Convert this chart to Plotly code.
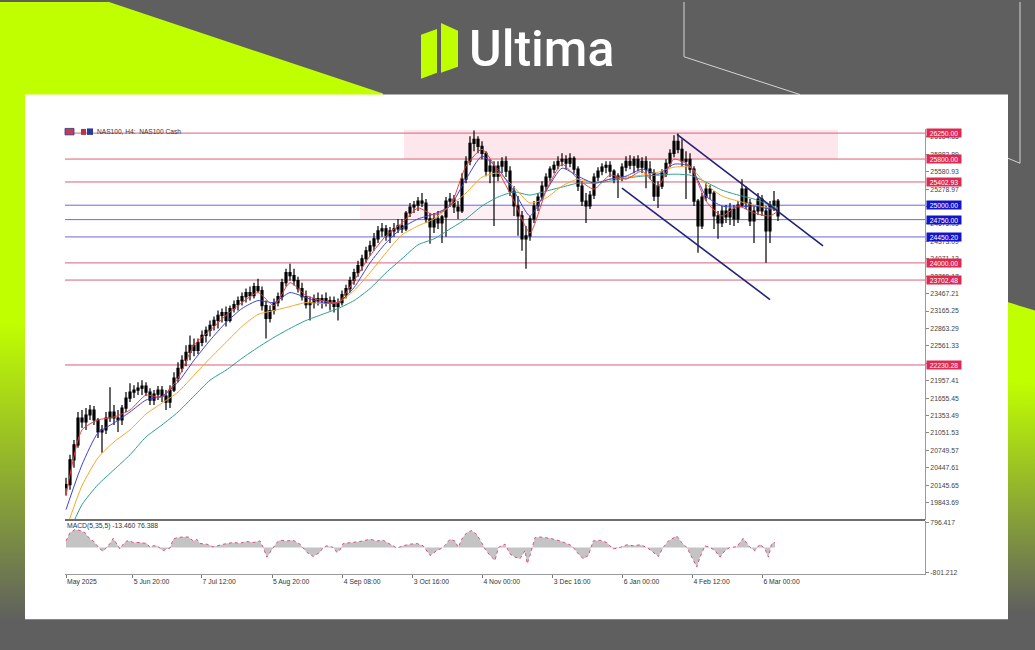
import plotly.graph_objects as go

# ---------------- data (NAS100, H4, one slot ~ 1.3 trading days) ----------------
bar_open = [
    20104, 20156, 20587, 20846, 21311, 21242, 21363, 21450, 21277, 21070,
    21105, 21311, 21415, 21311, 21277, 21484, 21656, 21760, 21795, 21829,
    21864, 21760, 21622, 21726, 21795, 21691, 21587, 21795, 22001, 22174,
    22312, 22450, 22571, 22485, 22622, 22743, 22830, 22916, 23002, 23089,
    23140, 23002, 23209, 23278, 23347, 23417, 23485, 23434, 23589, 23520,
    23261, 23037, 23175, 23312, 23417, 23657, 23830, 23779, 23692, 23554,
    23417, 23278, 23312, 23382, 23347, 23382, 23312, 23347, 23244, 23312,
    23451, 23554, 23692, 23830, 23951, 24072, 24210, 24296, 24417, 24555,
    24589, 24469, 24555, 24589, 24641, 24589, 24865, 24969, 25003, 25072,
    25037, 24762, 24624, 24762, 24692, 24797, 25072, 25107, 24969, 24900,
    25452, 25762, 26072, 26142, 26021, 25900, 25590, 25676, 25504, 25676,
    25762, 25590, 25245, 24986, 24814, 24417, 24469, 24762, 24986, 25142,
    25331, 25487, 25624, 25693, 25762, 25797, 25727, 25814, 25624, 25331,
    25072, 24986, 25176, 25487, 25590, 25659, 25693, 25590, 25452, 25504,
    25659, 25762, 25693, 25797, 25659, 25762, 25624, 25555, 25159, 25331,
    25555, 25727, 25900, 26107, 25969, 25762, 25797, 25624, 25072, 24641,
    25142, 25279, 25210, 24814, 24692, 24900, 24797, 24934, 24762, 25003,
    25279, 25037, 24727, 24900, 25107, 24900, 24555, 25003, 25072]
bar_high = [
    20276, 20673, 20932, 21415, 21450, 21484, 21536, 21519, 21311, 21191,
    21415, 21846, 21536, 21450, 21536, 21760, 21915, 21881, 21932, 21967,
    21932, 21829, 21795, 21864, 21864, 21795, 21881, 22105, 22277, 22398,
    22571, 22743, 22691, 22691, 22830, 22899, 23002, 23072, 23175, 23209,
    23244, 23261, 23347, 23417, 23485, 23554, 23589, 23657, 23727, 23589,
    23347, 23261, 23382, 23485, 23727, 23899, 23985, 23899, 23762, 23657,
    23520, 23417, 23451, 23485, 23451, 23485, 23417, 23417, 23382, 23520,
    23623, 23762, 23899, 24037, 24141, 24279, 24382, 24520, 24641, 24692,
    24658, 24624, 24692, 24762, 24762, 24900, 25037, 25072, 25142, 25210,
    25107, 24865, 24865, 24900, 24831, 25142, 25210, 25176, 25072, 25555,
    25849, 26194, 26297, 26194, 26107, 25935, 25797, 25762, 25762, 25832,
    25849, 25676, 25331, 25159, 24900, 24641, 24814, 25072, 25210, 25417,
    25555, 25676, 25762, 25849, 25900, 25866, 25900, 25849, 25676, 25417,
    25210, 25245, 25555, 25659, 25727, 25762, 25762, 25624, 25555, 25727,
    25849, 25866, 25849, 25866, 25832, 25849, 25762, 25624, 25417, 25624,
    25797, 25969, 26211, 26245, 26142, 25935, 25900, 25676, 25107, 25210,
    25382, 25348, 25245, 24900, 24986, 25003, 25037, 25003, 25072, 25452,
    25331, 25107, 24986, 25210, 25176, 24986, 25072, 25245, 25107]
bar_low = [
    19966, 20069, 20449, 20794, 21139, 21105, 21277, 21191, 20966, 20707,
    21036, 21242, 21191, 21070, 21191, 21415, 21587, 21656, 21708, 21708,
    21691, 21536, 21536, 21622, 21587, 21450, 21484, 21760, 21932, 22105,
    22209, 22312, 22381, 22416, 22554, 22622, 22726, 22830, 22864, 22967,
    22899, 22967, 23140, 23175, 23261, 23312, 23347, 23382, 23485, 23175,
    22691, 22967, 23106, 23244, 23347, 23589, 23692, 23606, 23485, 23347,
    23209, 23002, 23209, 23261, 23209, 23244, 23175, 23140, 23002, 23261,
    23382, 23485, 23623, 23762, 23865, 24002, 24124, 24210, 24347, 24452,
    24382, 24347, 24452, 24520, 24520, 24555, 24797, 24865, 24900, 24969,
    24692, 24330, 24520, 24589, 24347, 24452, 24969, 24865, 24762, 24865,
    25382, 25693, 25935, 25900, 25797, 25504, 25382, 24641, 25417, 25555,
    25487, 25159, 24814, 24469, 24210, 23899, 24382, 24692, 24900, 25072,
    25245, 25417, 25555, 25624, 25676, 25624, 25659, 25555, 25245, 24986,
    24692, 24934, 25107, 25417, 25521, 25555, 25487, 25382, 25124, 25417,
    25590, 25624, 25555, 25590, 25555, 25296, 25452, 25072, 24951, 25279,
    25487, 25659, 25832, 25900, 25676, 25107, 25555, 24986, 24175, 24589,
    25072, 25107, 24589, 24417, 24624, 24692, 24658, 24641, 24692, 24969,
    24934, 24641, 24347, 24831, 24814, 24002, 24347, 24900, 24727]
bar_close = [
    20156, 20587, 20846, 21311, 21242, 21363, 21450, 21277, 21070, 21105,
    21311, 21415, 21311, 21277, 21484, 21656, 21760, 21795, 21829, 21864,
    21760, 21622, 21726, 21795, 21691, 21587, 21795, 22001, 22174, 22312,
    22450, 22571, 22485, 22622, 22743, 22830, 22916, 23002, 23089, 23140,
    23002, 23209, 23278, 23347, 23417, 23485, 23434, 23589, 23520, 23261,
    23037, 23175, 23312, 23417, 23657, 23830, 23779, 23692, 23554, 23417,
    23278, 23312, 23382, 23347, 23382, 23312, 23347, 23244, 23312, 23451,
    23554, 23692, 23830, 23951, 24072, 24210, 24296, 24417, 24555, 24589,
    24469, 24555, 24589, 24641, 24589, 24865, 24969, 25003, 25072, 25037,
    24762, 24624, 24762, 24692, 24797, 25072, 25107, 24969, 24900, 25452,
    25762, 26072, 26142, 26021, 25900, 25590, 25676, 25504, 25676, 25762,
    25590, 25245, 24986, 24814, 24417, 24469, 24762, 24986, 25142, 25331,
    25487, 25624, 25693, 25762, 25797, 25727, 25814, 25624, 25331, 25072,
    24986, 25176, 25487, 25590, 25659, 25693, 25590, 25452, 25504, 25659,
    25762, 25693, 25797, 25659, 25762, 25624, 25555, 25159, 25331, 25555,
    25727, 25900, 26107, 25969, 25762, 25797, 25624, 25072, 24641, 25142,
    25279, 25210, 24814, 24692, 24900, 24797, 24934, 24762, 25003, 25279,
    25037, 24727, 24900, 25107, 24900, 24555, 25003, 25072, 24814]
bar_slot = list(range(len(bar_close)))

ma_slot = [0, 4, 8, 12, 16, 20, 24, 28, 32, 36, 40, 44, 48, 52, 56, 60, 64, 68, 72, 76,
           80, 84, 88, 92, 96, 100, 104, 108, 112, 116, 120, 124, 128, 132, 136, 140, 144,
           148, 152, 156, 160, 164, 168, 172, 176, 178]
ma_red = [19966, 21105, 21277, 21328, 21450, 21708, 21673, 22001, 22571, 22830, 23089, 23312,
          23485, 23261, 23657, 23434, 23347, 23312, 23692, 24124, 24469, 24692, 24951, 24831,
          24986, 25676, 25969, 25590, 25072, 24520, 25245, 25711, 25452, 25279, 25521, 25452,
          25590, 25331, 25797, 25676, 25072, 24814, 24986, 24865, 24814, 24900]
ma_blue = [19723, 20501, 21053, 21225, 21415, 21622, 21691, 21932, 22312, 22657, 22967, 23209,
           23347, 23312, 23485, 23399, 23312, 23312, 23572, 24002, 24347, 24606, 24762, 24848,
           24986, 25452, 25849, 25624, 25245, 24814, 25245, 25642, 25504, 25382, 25452, 25504,
           25624, 25538, 25711, 25676, 25159, 24986, 24969, 24986, 24934, 24934]
ma_orange = [19378, 20138, 20621, 20897, 21105, 21380, 21570, 21760, 22053, 22346, 22622, 22899,
             23106, 23175, 23244, 23312, 23295, 23312, 23520, 23830, 24175, 24486, 24641, 24762,
             24986, 25210, 25487, 25555, 25314, 25037, 25124, 25331, 25452, 25382, 25452, 25487,
             25521, 25573, 25659, 25659, 25366, 25159, 25072, 25003, 24951, 24934]
ma_teal = [19205, 19809, 20156, 20414, 20673, 20983, 21191, 21415, 21691, 21967, 22140, 22346,
           22536, 22709, 22864, 23002, 23106, 23209, 23347, 23554, 23830, 24072, 24313, 24417,
           24589, 24762, 24986, 25142, 25228, 25176, 25245, 25314, 25382, 25382, 25417, 25469,
           25504, 25521, 25538, 25521, 25400, 25262, 25176, 25107, 25003, 24951]

macd_slot = [0, 1.0, 2.25, 3.5, 4.75, 6.0, 6.8, 7.7, 8.5, 9.3, 10.2, 11.0, 11.8, 12.7, 13.5, 14.3,
             15.2, 16.0, 16.8, 18.5, 20.2, 21.0, 21.8, 22.7, 23.5, 24.3, 25.2, 26.0, 26.8, 27.7,
             29.3, 30.6, 31.8, 32.7, 33.5, 35.2, 36.8, 38.5, 40.2, 41.8, 43.5, 45.2, 46.8, 48.5,
             49.3, 50.2, 51.0, 51.8, 52.7, 53.5, 55.2, 56.8, 58.5, 60.2, 61.8, 63.5, 64.3, 65.2,
             66.8, 67.7, 68.5, 69.3, 71.0, 73.5, 76.0, 77.7, 79.3, 81.0, 82.7, 84.3, 86.0, 87.7,
             89.3, 91.0, 92.7, 94.3, 96.0, 97.2, 98.1, 98.9, 100.2, 101.4, 102.7, 103.9, 104.75,
             106.0, 107.25, 108.1, 108.9, 109.75, 111.0, 112.25, 113.5, 114.75, 115.3, 116.0,
             117.25, 118.5, 121.0, 123.5, 126.0, 126.8, 128.1, 129.3, 130.6, 131.8, 133.5, 135.2,
             136.8, 138.5, 140.2, 141.8, 143.5, 145.2, 146.8, 148.1, 149.3, 150.6, 152.7, 153.9,
             155.2, 156.0, 157.7, 158.5, 159.75, 161.0, 162.25, 163.5, 164.75, 166.0, 167.7,
             169.3, 171.0, 172.25, 173.5, 174.75, 175.6, 176.4, 177.25]
macd_value = [208, 470, 574, 542, 470, 261, 208, 52, -52, -125, 0, 125, 292, 104, -52, 104,
              208, 208, 156, 156, 125, 0, 52, 52, -21, -104, -52, -21, 261, 313,
              334, 334, 208, 261, 125, 104, 21, 83, 125, 156, 136, 188, 156, 208,
              0, -313, -156, 0, 156, 229, 208, 229, 104, -156, -292, -156, 0, 52,
              0, -156, -83, 125, 156, 188, 261, 208, 229, 104, -21, 52, 104, 125,
              52, -261, -104, 0, 261, 208, 0, 261, 470, 542, 417, 156, -52,
              -261, -417, 0, 52, 104, -208, -313, -365, -104, -521, -261,
              313, 334, 292, 208, 83, 0, -208, -365, -261, 208, 229, 156,
              -52, 0, 83, 52, 83, 0, -156, -292, 0, 208, 365, 156,
              0, -208, -626, -313, 52, 0, -104, -313, -104, 0, 21,
              292, 0, -104, 104, -52, -313, 125, 156]

level_red = [26250.00, 25800.00, 25402.93, 24000.00, 23702.48, 22230.28]
level_blue = [25000.00, 24750.00, 24450.20]

price_ticks = [19843.69, 20145.65, 20447.61, 20749.57, 21051.53, 21353.49, 21655.45, 21957.41,
               22259.37, 22561.33, 22863.29, 23165.25, 23467.21, 23769.17, 24071.13, 24373.09,
               24675.05, 24977.01, 25278.97, 25580.93, 25882.89, 26184.85]
price_tick_labels = ["19843.69", "20145.65", "20447.61", "20749.57", "21051.53", "21353.49",
                     "21655.45", "21957.41", "", "22561.33", "22863.29", "23165.25", "23467.21",
                     "23769.17", "24071.13", "24373.09", "24675.05", "", "25278.97", "25580.93",
                     "25882.89", "26184.85"]
macd_ticks = [796.417, -801.212]
date_slots = [0, 16.7, 33.9, 51.5, 69.2, 86.7, 104.1, 121.7, 139.2, 156.6, 174.1]
date_labels = ["May 2025", "5 Jun 20:00", "7 Jul 12:00", "5 Aug 20:00", "4 Sep 08:00",
               "3 Oct 16:00", "4 Nov 00:00", "3 Dec 16:00", "6 Jan 00:00", "4 Feb 12:00",
               "6 Mar 00:00"]

channel_upper_slot = [152.75, 189.25]
channel_upper_price = [26228, 24296]
channel_lower_slot = [139.0, 176.0]
channel_lower_price = [25296, 23365]
zone_top = [84.5, 193.0, 25800, 26314]
zone_mid = [73.5, 161.75, 24750, 25000]

# ---------------- styling ----------------
W, H = 1035, 650
LIME = "#c0ff00"
GREY = "#5f5f5f"
FONT = "Liberation Sans"
RED_LVL = "#d9607a"
BLUE_LVL = "#6a6ad8"
X_RANGE = [-0.25, 214.75]
PX_L, PX_R = 65, 925


def px(x):
    return x / W


def py(y):
    return 1 - y / H


fig = go.Figure()

# ----- decorative frame (background subplot in pixel units) -----
bg = dict(xaxis="x", yaxis="y", hoverinfo="skip", showlegend=False)
fig.add_trace(go.Scatter(x=[0, 109, 383, 383, 0], y=[0, 0, 92, 650, 650], fill="toself", mode="none",
                         fillgradient=dict(type="vertical", start=320, stop=620,
                                           colorscale=[[0, LIME], [1, GREY]]), **bg))
fig.add_trace(go.Scatter(x=[880, 1035, 1035, 880], y=[262, 310, 650, 650], fill="toself", mode="none",
                         fillgradient=dict(type="vertical", start=380, stop=610,
                                           colorscale=[[0, LIME], [1, GREY]]), **bg))
fig.add_trace(go.Scatter(x=[684, 684, 800], y=[-5, 55, 93], mode="lines",
                         line=dict(color="#d4d4d4", width=1), **bg))
fig.add_trace(go.Scatter(x=[1020, 1020, 1008], y=[-5, 162, 157], mode="lines",
                         line=dict(color="#d4d4d4", width=1), **bg))
fig.add_trace(go.Scatter(x=[25, 1008, 1008, 25, 25], y=[93, 93, 620, 620, 93], fill="toself",
                         mode="none", fillcolor="white", **bg))
# logo icon
fig.add_trace(go.Scatter(x=[421, 437, 437, 421, 421], y=[33, 27, 71, 77, 33], fill="toself",
                         mode="none", fillcolor=LIME, **bg))
fig.add_trace(go.Scatter(x=[441, 458, 458, 441, 441], y=[21, 29, 65, 71, 21], fill="toself",
                         mode="none", fillcolor=LIME, **bg))

# ----- price chart -----
main = dict(xaxis="x2", yaxis="y2", hoverinfo="skip", showlegend=False)
fig.add_trace(go.Candlestick(x=bar_slot, open=bar_open, high=bar_high, low=bar_low, close=bar_close,
                             increasing=dict(line=dict(color="black", width=1.2), fillcolor="black"),
                             decreasing=dict(line=dict(color="black", width=1.2), fillcolor="black"),
                             whiskerwidth=0, xaxis="x2", yaxis="y2", showlegend=False,
                             hoverinfo="skip"))
for vals, col in [(ma_teal, "#2a9d8f"), (ma_orange, "#f5a623"), (ma_blue, "#4040d0"),
                  (ma_red, "#e84040")]:
    fig.add_trace(go.Scatter(x=ma_slot, y=vals, mode="lines",
                             line=dict(color=col, width=1, shape="spline", smoothing=0.6), **main))

# ----- MACD -----
sub = dict(xaxis="x3", yaxis="y3", hoverinfo="skip", showlegend=False)
fig.add_trace(go.Scatter(x=macd_slot, y=macd_value, mode="lines", fill="tozeroy",
                         fillcolor="#c4c4c4", line=dict(width=0, color="#c4c4c4"), **sub))
fig.add_trace(go.Scatter(x=macd_slot, y=macd_value, mode="lines",
                         line=dict(color="#e0507a", width=1, dash="dot"), **sub))

# ----- shapes -----
shapes = []
shapes.append(dict(type="rect", xref="x2", yref="y2", x0=zone_top[0], x1=zone_top[1],
                   y0=zone_top[2], y1=zone_top[3], fillcolor="#fde6ec", line=dict(width=0),
                   layer="below"))
shapes.append(dict(type="rect", xref="x2", yref="y2", x0=zone_mid[0], x1=zone_mid[1],
                   y0=zone_mid[2], y1=zone_mid[3], fillcolor="#fdeff3", line=dict(width=0),
                   layer="below"))
for lv in level_red:
    shapes.append(dict(type="line", xref="x2", yref="y2", x0=X_RANGE[0], x1=X_RANGE[1], y0=lv, y1=lv,
                       line=dict(color=RED_LVL, width=1), layer="below"))
for lv in level_blue:
    shapes.append(dict(type="line", xref="x2", yref="y2", x0=X_RANGE[0], x1=X_RANGE[1], y0=lv, y1=lv,
                       line=dict(color=BLUE_LVL, width=1), layer="below"))
shapes.append(dict(type="line", xref="x2", yref="y2", x0=channel_upper_slot[0], x1=channel_upper_slot[1],
                   y0=channel_upper_price[0], y1=channel_upper_price[1],
                   line=dict(color="#22227a", width=1.6)))
shapes.append(dict(type="line", xref="x2", yref="y2", x0=channel_lower_slot[0], x1=channel_lower_slot[1],
                   y0=channel_lower_price[0], y1=channel_lower_price[1],
                   line=dict(color="#22227a", width=1.6)))
# separator between price and MACD panes
shapes.append(dict(type="line", xref="paper", yref="paper", x0=px(PX_L), x1=px(PX_R),
                   y0=py(520.5), y1=py(520.5), line=dict(color="#6e6e6e", width=2)))
# header icons
shapes.append(dict(type="rect", xref="paper", yref="paper", x0=px(65), x1=px(74), y0=py(133.5),
                   y1=py(127), fillcolor="#c43c52", line=dict(color="#2c3a8c", width=0.8)))
shapes.append(dict(type="rect", xref="paper", yref="paper", x0=px(81), x1=px(86), y0=py(133.5),
                   y1=py(127.5), fillcolor="#b8344c", line=dict(width=0)))
shapes.append(dict(type="rect", xref="paper", yref="paper", x0=px(87), x1=px(93), y0=py(133.5),
                   y1=py(127), fillcolor="#2c3a9a", line=dict(width=0)))

# ----- annotations -----
ann = []
ann.append(dict(x=541, y=47, xref="x", yref="y", text="Ultima", showarrow=False,
                font=dict(family="Roboto", size=50, color="white", weight=500),
                xanchor="center", yanchor="middle"))
ann.append(dict(x=px(95), y=py(130.5), xref="paper", yref="paper", text="NAS100, H4:  NAS100 Cash",
                showarrow=False, xanchor="left", yanchor="middle",
                font=dict(family=FONT, size=6.6, color="#333333")))
ann.append(dict(x=px(65), y=py(526.5), xref="paper", yref="paper", text="MACD(5,35,5) -13.460 76.388",
                showarrow=False, xanchor="left", yanchor="middle",
                font=dict(family=FONT, size=6.8, color="#333333")))
for lv in level_red + level_blue:
    col = "#dc2a52" if lv in level_red else "#1414c8"
    ann.append(dict(x=px(926), y=lv, xref="paper", yref="y2", text=f"{lv:.2f}", showarrow=False,
                    xanchor="left", yanchor="middle", bgcolor=col, width=34, height=8,
                    align="center", borderpad=0,
                    font=dict(family=FONT, size=6.8, color="white")))

fig.update_layout(
    width=W, height=H, margin=dict(l=0, r=0, t=0, b=0),
    paper_bgcolor=GREY, plot_bgcolor="rgba(0,0,0,0)",
    showlegend=False, hovermode=False,
    shapes=shapes, annotations=ann,
    xaxis=dict(domain=[0, 1], range=[0, W], visible=False, fixedrange=True),
    yaxis=dict(domain=[0, 1], range=[H, 0], visible=False, fixedrange=True),
    xaxis2=dict(domain=[px(PX_L), px(PX_R)], anchor="y2", range=X_RANGE, visible=False,
                rangeslider=dict(visible=False), fixedrange=True),
    yaxis2=dict(domain=[py(520), py(128)], anchor="x2", side="right", range=[19550, 26314],
                tickvals=price_ticks, ticktext=price_tick_labels,
                ticks="outside", ticklen=3, tickcolor="#888888", showgrid=False, zeroline=False,
                showline=True, linecolor="#9a9a9a", linewidth=1,
                tickfont=dict(family=FONT, size=6.8, color="#444444"), fixedrange=True),
    xaxis3=dict(domain=[px(PX_L), px(PX_R)], anchor="y3", range=X_RANGE,
                tickvals=date_slots, ticktext=date_labels, ticks="outside", ticklen=3,
                tickcolor="#777777", ticklabelposition="outside right", showgrid=False,
                zeroline=False, showline=True, linecolor="#9a9a9a", linewidth=1,
                tickfont=dict(family=FONT, size=6.8, color="#333333"), fixedrange=True),
    yaxis3=dict(domain=[py(575), py(521)], anchor="x3", side="right", range=[-865, 860],
                tickvals=macd_ticks, ticktext=["796.417", "-801.212"], ticks="outside", ticklen=3,
                tickcolor="#888888", showgrid=False, zeroline=False, showline=True,
                linecolor="#9a9a9a", linewidth=1,
                tickfont=dict(family=FONT, size=6.8, color="#444444"), fixedrange=True),
)

fig.write_html("out.html", config={"displayModeBar": False, "staticPlot": True},
               post_script="document.body.style.margin='0px';document.body.style.overflow='hidden';")
